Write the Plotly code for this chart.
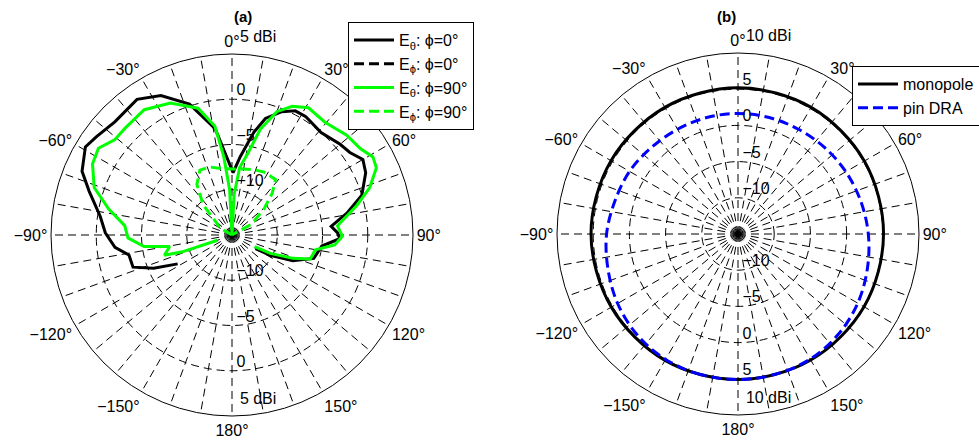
import plotly.graph_objects as go

# ---------------- (a) measured element patterns, dB vs theta (deg) ----------------
theta_eth_phi0 = [-118, -113, -108, -101, -96, -89, -82, -73, -67, -59, -54, -46, -35, -27,
                  -18, -9, -4, 1, 6, 12, 16, 22, 27, 32, 41, 50, 55, 60, 65, 73, 79, 85,
                  89, 92, 97, 106, 113, 118, 120]
gain_eth_phi0 = [-8.2, -5.6, -3.5, -3.4, -2.0, -1.0, -0.3, 1.5, 3.0, 3.9, 3.5, 3.0, 3.3, 2.3,
                 0.2, -3.1, -6.3, -8.1, -6.3, -3.4, -1.6, -0.3, 0.4, 0.4, 0.0, 0.6, 0.9, 1.7,
                 1.3, 0.0, -2.0, -4.0, -3.3, -3.1, -5.0, -5.6, -7.7, -10.2, -12.0]

theta_eph_phi0 = [-180, -150, -120, -90, -60, -30, 0, 30, 60, 90, 120, 150, 180]
gain_eph_phi0 = [-15, -15, -15, -15, -15, -15, -15, -15, -15, -15, -15, -15, -15]

theta_eth_phi90 = [-110, -108.7, -106.7, -100.5, -97.5, -91.6, -85, -78, -71, -63, -57, -51,
                   -45, -35, -25, -15, -9, -6, -3, 0, 3, 6.5, 11, 15, 20, 25, 31, 39.5, 49,
                   56, 61, 65, 71, 76.6, 85, 90.7, 95.5, 100, 107, 111, 115.6, 117]
gain_eth_phi90 = [-13.3, -9.2, -7.2, -8.0, -5.2, -3.5, -3.1, -1.05, 1.1, 2.3, 2.6, 1.7,
                  1.7, 1.9, 1.1, -0.5, -2.8, -6.3, -10.0, -15, -10.5, -7.5, -5.8, -2.9, -0.5,
                  0.7, 1.4, 1.15, 1.8, 2.1, 2.8, 2.6, 1.1, -0.8, -3.3, -2.8, -3.6, -5.65,
                  -5.95, -7.8, -10.3, -12.2]

theta_eph_phi90 = [-70, -60, -51.7, -43.8, -34.8, -26.3, -18, -8, 0, 10, 18, 27, 38, 44,
                   50.6, 60.8, 70]
gain_eph_phi90 = [-15, -13.5, -12.8, -10.4, -8.2, -7.0, -7.1, -7.6, -7.7, -7.6, -7.4, -7.2,
                  -7.2, -8.6, -10.4, -12.5, -15]

# ---------------- (b) simulated patterns ----------------
theta_mono = [-180, -150, -120, -90, -60, -30, 0, 30, 60, 90, 120, 150, 180]
gain_mono = [5.1, 5.15, 5.2, 5.3, 5.25, 5.2, 5.2, 5.2, 5.15, 5.1, 5.1, 5.1, 5.1]

theta_dra = [-180, -165, -150, -135, -120, -105, -90, -75, -60, -45, -30, -15, 0,
             15, 30, 45, 60, 75, 90, 105, 120, 135, 150, 165, 180]
gain_dra = [5.1, 5.1, 5.0, 4.7, 4.2, 3.6, 3.15, 2.6, 2.3, 1.9, 1.7, 1.65, 1.65,
            1.65, 1.7, 1.9, 2.2, 2.55, 3.0, 3.5, 4.1, 4.6, 4.95, 5.05, 5.1]

# radial scales and ring labels
NB = "\u00a0"
range_a = [-15, 5]
rings_a = [-10, -5, 0]
outer_label_a = "5 dBi"
ring_labels_a = [NB + "0", NB + "\u22125", NB + "\u221210"]
ring_label_r_a = [0, -5, -10]

range_b = [-15, 10]
rings_b = [-10, -5, 0, 5]
outer_label_b = "10 dBi"
ring_labels_b = [NB + "5", NB + "0", NB + "\u22125", NB + "\u221210"]
ring_label_r_b = [5, 0, -5, -10]

# angular ticks: spokes every 10 deg, labels every 30 deg
spoke_vals = list(range(0, 360, 10))
spoke_text = []
for v in spoke_vals:
    if v % 30:
        spoke_text.append("")
    elif v <= 180:
        spoke_text.append(f"{v}\u00b0")
    else:
        spoke_text.append(f"\u2212{360 - v}\u00b0")

FONT = "Liberation Sans, Arial, sans-serif"
GREEN = "#00ff00"
GRID_DASH = "8px,5px"

fig = go.Figure()

# (a) traces
fig.add_trace(go.Scatterpolar(theta=theta_eth_phi0, r=gain_eth_phi0, mode="lines",
                              name="E<sub>\u03b8</sub>: \u03d5=0\u00b0",
                              line=dict(color="black", width=3), subplot="polar"))
fig.add_trace(go.Scatterpolar(theta=theta_eph_phi0, r=gain_eph_phi0, mode="lines",
                              name="E<sub>\u03d5</sub>: \u03d5=0\u00b0",
                              line=dict(color="black", width=3, dash="10px,5px"),
                              subplot="polar"))
fig.add_trace(go.Scatterpolar(theta=theta_eth_phi90, r=gain_eth_phi90, mode="lines",
                              name="E<sub>\u03b8</sub>: \u03d5=90\u00b0",
                              line=dict(color=GREEN, width=3), subplot="polar"))
fig.add_trace(go.Scatterpolar(theta=theta_eph_phi90, r=gain_eph_phi90, mode="lines",
                              name="E<sub>\u03d5</sub>: \u03d5=90\u00b0",
                              line=dict(color=GREEN, width=3, dash="10px,5px"),
                              subplot="polar"))

# (b) traces
fig.add_trace(go.Scatterpolar(theta=theta_mono, r=gain_mono, mode="lines", name="monopole",
                              line=dict(color="black", width=3, shape="spline"),
                              subplot="polar2", legend="legend2"))
fig.add_trace(go.Scatterpolar(theta=theta_dra, r=gain_dra, mode="lines", name="pin DRA",
                              line=dict(color="#0000ff", width=3, dash="10px,5px",
                                        shape="spline"),
                              subplot="polar2", legend="legend2"))

# ring labels along the vertical axis (top and bottom)
for sub, rng, outer, rr, tt in (("polar", range_a, outer_label_a, ring_label_r_a, ring_labels_a),
                                ("polar2", range_b, outer_label_b, ring_label_r_b, ring_labels_b)):
    fig.add_trace(go.Scatterpolar(theta=[0] * len(rr) + [180] * len(rr), r=rr + rr,
                                  text=tt + tt, mode="text", textposition="top right",
                                  textfont=dict(family=FONT, size=16, color="black"),
                                  cliponaxis=False, showlegend=False, hoverinfo="skip",
                                  subplot=sub))
    # outer-ring label, offset a little further from the 0 deg tick label
    fig.add_trace(go.Scatterpolar(theta=[0, 180], r=[rng[1], rng[1]], text=[outer, outer],
                                  mode="markers+text", textposition="top right",
                                  marker=dict(size=11, color="rgba(0,0,0,0)"),
                                  textfont=dict(family=FONT, size=16, color="black"),
                                  cliponaxis=False, showlegend=False, hoverinfo="skip",
                                  subplot=sub))


def polar_axes(rng, rings, xdom, ydom):
    return dict(
        domain=dict(x=xdom, y=ydom),
        bgcolor="white",
        radialaxis=dict(range=rng, tickvals=rings, showticklabels=False, ticks="",
                        showline=False, gridcolor="black", gridwidth=1, griddash=GRID_DASH),
        angularaxis=dict(rotation=90, direction="clockwise", tickmode="array",
                         tickvals=spoke_vals, ticktext=spoke_text, ticks="",
                         showline=True, linecolor="black", linewidth=1,
                         gridcolor="black", gridwidth=1, griddash=GRID_DASH,
                         tickfont=dict(family=FONT, size=16, color="black")),
    )


W, H = 979, 442
R = 181
ca, cb = (232, 235), (738, 234)


def dom(c):
    return ([(c[0] - R) / W, (c[0] + R) / W], [(H - c[1] - R) / H, (H - c[1] + R) / H])


xa, ya = dom(ca)
xb, yb = dom(cb)

fig.update_layout(
    width=W, height=H,
    margin=dict(l=0, r=0, t=0, b=0, autoexpand=False),
    paper_bgcolor="white",
    font=dict(family=FONT, size=16, color="black"),
    polar=polar_axes(range_a, rings_a, xa, ya),
    polar2=polar_axes(range_b, rings_b, xb, yb),
    legend=dict(x=348 / W, y=1 - 22 / H, xanchor="left", yanchor="top",
                bgcolor="white", bordercolor="black", borderwidth=1,
                font=dict(family=FONT, size=16, color="black"), itemwidth=40),
    legend2=dict(x=852 / W, y=1 - 66 / H, xanchor="left", yanchor="top",
                 bgcolor="white", bordercolor="black", borderwidth=1,
                 font=dict(family=FONT, size=16, color="black"), itemwidth=40,
                 tracegroupgap=0),
    annotations=[
        dict(text="<b>(a)</b>", x=ca[0] / W, y=1 - 17 / H, xref="paper", yref="paper",
             yanchor="middle", showarrow=False,
             font=dict(family=FONT, size=15, color="black")),
        dict(text="<b>(b)</b>", x=cb[0] / W, y=1 - 17 / H, xref="paper", yref="paper",
             yanchor="middle", showarrow=False,
             font=dict(family=FONT, size=15, color="black")),
    ],
)

fig.write_html("out.html")
